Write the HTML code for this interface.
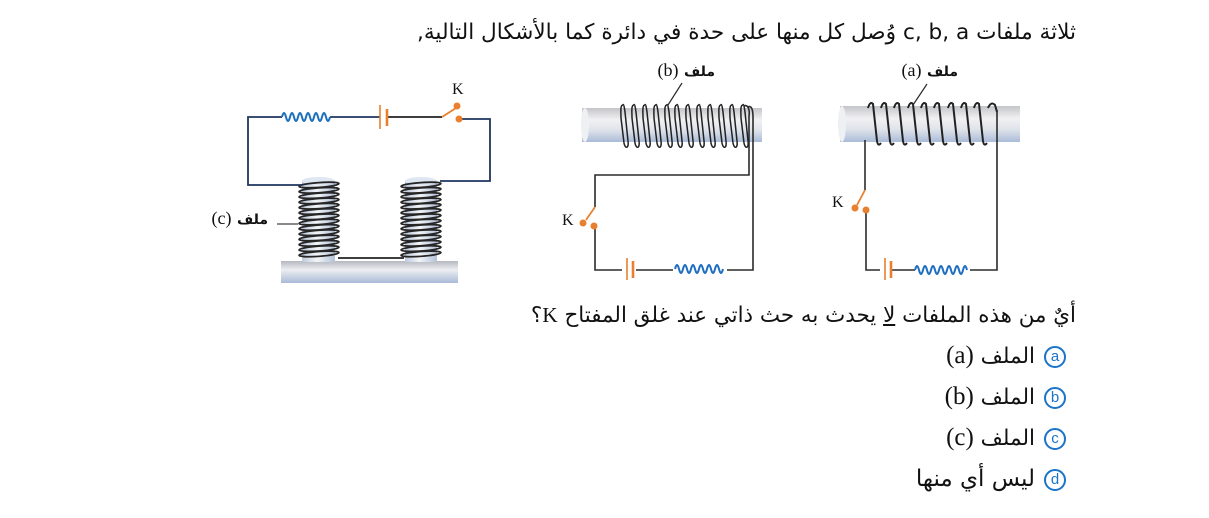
<!DOCTYPE html>
<html><head><meta charset="utf-8">
<style>
html,body{margin:0;padding:0;background:#fff;}
body{width:1209px;height:518px;position:relative;overflow:hidden;font-family:"DejaVu Sans",sans-serif;color:#111;}
.t{position:absolute;white-space:nowrap;direction:rtl;}
.ser{font-family:"Liberation Serif",serif;}
.opt{position:absolute;white-space:nowrap;direction:rtl;font-size:21.5px;line-height:26px;}
.op{display:inline-block;direction:ltr;unicode-bidi:isolate;font-family:"Liberation Serif",serif;font-size:25px;}
.lb{display:inline-block;direction:ltr;unicode-bidi:isolate;font-family:"Liberation Serif",serif;font-size:18px;}
.circ{position:absolute;width:18px;height:18px;border:2px solid #1b74c8;border-radius:50%;color:#1b74c8;font-family:"Liberation Sans",sans-serif;font-size:15px;line-height:17px;text-align:center;}
svg{position:absolute;left:0;top:0;}
</style></head><body>
<svg width="1209" height="518" viewBox="0 0 1209 518">
<defs>
<linearGradient id="rodg" x1="0" y1="0" x2="0" y2="1">
<stop offset="0" stop-color="#c4c5c9"/><stop offset="0.35" stop-color="#f1f1f3"/><stop offset="0.65" stop-color="#dfe3ea"/><stop offset="1" stop-color="#aabbd8"/>
</linearGradient>
<linearGradient id="vg" x1="0" y1="0" x2="1" y2="0">
<stop offset="0" stop-color="#bcc8dc"/><stop offset="0.45" stop-color="#f3f5f8"/><stop offset="1" stop-color="#b3c1d8"/>
</linearGradient>
<linearGradient id="baseg" x1="0" y1="0" x2="0" y2="1">
<stop offset="0" stop-color="#b5b8be"/><stop offset="0.4" stop-color="#eceef1"/><stop offset="1" stop-color="#a9bad8"/>
</linearGradient>
</defs>

<!-- ===== Circuit a ===== -->
<rect x="840" y="106" width="180" height="36" fill="url(#rodg)"/>
<ellipse cx="842" cy="124" rx="4" ry="18" fill="#eef0f3"/>
<g fill="none" stroke="#222" stroke-width="2">
<path d="M868 108 Q870 101 873 104 L877 141 Q878 147 881 143"/>
<path d="M881 108 Q883 101 886 104 L890 141 Q891 147 894 143"/>
<path d="M894 108 Q896 101 899 104 L903 141 Q904 147 907 143"/>
<path d="M908 108 Q910 101 913 104 L917 141 Q918 147 921 143"/>
<path d="M921 108 Q923 101 926 104 L930 141 Q931 147 934 143"/>
<path d="M934 108 Q936 101 939 104 L943 141 Q944 147 947 143"/>
<path d="M948 108 Q950 101 953 104 L957 141 Q958 147 961 143"/>
<path d="M961 108 Q963 101 966 104 L970 141 Q971 147 974 143"/>
<path d="M974 108 Q976 101 979 104 L983 141 Q984 147 987 143"/>
<path d="M988 108 Q991 101 995 105 L997 112"/>
</g>
<g fill="none" stroke="#2b2b2b" stroke-width="1.6">
<polyline points="865,140 865,190"/>
<polyline points="866,211 866,270 997,270 997,110"/>
<line x1="927" y1="84" x2="913" y2="105" stroke-width="1.2"/>
</g>
<line x1="865" y1="190" x2="857" y2="205" stroke="#e8802f" stroke-width="1.8"/>
<circle cx="855" cy="208" r="3.5" fill="#e8802f"/>
<circle cx="866" cy="210" r="3.5" fill="#e8802f"/>
<rect x="880" y="266" width="10" height="8" fill="#fff"/>
<line x1="885" y1="258" x2="885" y2="280" stroke="#e8802f" stroke-width="1.6"/>
<line x1="891" y1="261" x2="891" y2="278" stroke="#e8802f" stroke-width="2.6"/>
<rect x="915" y="262" width="55" height="14" fill="#fff"/>
<path d="M915 270 Q917 262 919 270 Q921 278 923 270 Q925 262 927 270 Q929 278 931 270 Q933 262 935 270 Q937 278 939 270 Q941 262 943 270 Q945 278 947 270 Q949 262 951 270 Q953 278 955 270 Q957 262 959 270 Q961 278 963 270 Q965 262 967 270" fill="none" stroke="#1f6fc0" stroke-width="2"/>

<!-- ===== Circuit b ===== -->
<rect x="582" y="108" width="180" height="34" fill="url(#rodg)"/>
<ellipse cx="585" cy="125" rx="4" ry="17" fill="#eef0f3"/>
<g fill="none" stroke="#222" stroke-width="1.5">
<path d="M623 105 C620 105 621 112 621 118 L624 143 C625 149 629 149 628 141 L625 112 C624 104 623 104 623 105"/>
<path d="M634 105 C631 105 632 112 632 118 L635 143 C636 149 640 149 639 141 L636 112 C635 104 634 104 634 105"/>
<path d="M645 105 C642 105 643 112 643 118 L646 143 C647 149 651 149 650 141 L647 112 C646 104 645 104 645 105"/>
<path d="M656 105 C653 105 654 112 654 118 L657 143 C658 149 662 149 661 141 L658 112 C657 104 656 104 656 105"/>
<path d="M667 105 C664 105 665 112 665 118 L668 143 C669 149 673 149 672 141 L669 112 C668 104 667 104 667 105"/>
<path d="M677 105 C674 105 675 112 675 118 L678 143 C679 149 683 149 682 141 L679 112 C678 104 677 104 677 105"/>
<path d="M688 105 C685 105 686 112 686 118 L689 143 C690 149 694 149 693 141 L690 112 C689 104 688 104 688 105"/>
<path d="M699 105 C696 105 697 112 697 118 L700 143 C701 149 705 149 704 141 L701 112 C700 104 699 104 699 105"/>
<path d="M710 105 C707 105 708 112 708 118 L711 143 C712 149 716 149 715 141 L712 112 C711 104 710 104 710 105"/>
<path d="M721 105 C718 105 719 112 719 118 L722 143 C723 149 727 149 726 141 L723 112 C722 104 721 104 721 105"/>
<path d="M732 105 C729 105 730 112 730 118 L733 143 C734 149 738 149 737 141 L734 112 C733 104 732 104 732 105"/>
<path d="M743 105 C740 105 741 112 741 118 L744 143 C745 149 749 149 748 141 L745 112 C744 104 743 104 743 105"/>
</g>
<g fill="none" stroke="#2b2b2b" stroke-width="1.6">
<path d="M744 106 C748 104 750 110 749 116 L749 175 L595 175 L595 207"/>
<path d="M748 107 C752 105 753 111 753 117 L753 270 L595 270 L595 227"/>
<line x1="682" y1="83" x2="668" y2="105" stroke-width="1.2"/>
</g>
<line x1="595" y1="207" x2="586" y2="220" stroke="#e8802f" stroke-width="1.8"/>
<circle cx="583" cy="223" r="3.5" fill="#e8802f"/>
<circle cx="594" cy="226" r="3.5" fill="#e8802f"/>
<rect x="622" y="266" width="14" height="8" fill="#fff"/>
<line x1="627" y1="258" x2="627" y2="280" stroke="#e8802f" stroke-width="1.6"/>
<line x1="633" y1="261" x2="633" y2="278" stroke="#e8802f" stroke-width="2.6"/>
<rect x="673" y="262" width="54" height="14" fill="#fff"/>
<path d="M675 269 Q677 261 679 269 Q681 277 683 269 Q685 261 687 269 Q689 277 691 269 Q693 261 695 269 Q697 277 699 269 Q701 261 703 269 Q705 277 707 269 Q709 261 711 269 Q713 277 715 269 Q717 261 719 269 Q721 277 723 269" fill="none" stroke="#1f6fc0" stroke-width="2"/>

<!-- ===== Circuit c ===== -->
<rect x="281" y="261" width="177" height="22" fill="url(#baseg)"/>
<rect x="302" y="181" width="33" height="81" fill="url(#vg)"/>
<ellipse cx="318.5" cy="181" rx="16.5" ry="4" fill="#dfe7f2"/>
<rect x="405" y="181" width="32" height="81" fill="url(#vg)"/>
<ellipse cx="421" cy="181" rx="16" ry="4" fill="#dfe7f2"/>
<g fill="none" stroke="#262626" stroke-width="1.7">
<ellipse cx="319" cy="185" rx="20" ry="2.4" transform="rotate(-4 319 185)"/>
<ellipse cx="319" cy="190.3" rx="20" ry="2.4" transform="rotate(-4 319 190.3)"/>
<ellipse cx="319" cy="195.6" rx="20" ry="2.4" transform="rotate(-4 319 195.6)"/>
<ellipse cx="319" cy="200.9" rx="20" ry="2.4" transform="rotate(-4 319 200.9)"/>
<ellipse cx="319" cy="206.2" rx="20" ry="2.4" transform="rotate(-4 319 206.2)"/>
<ellipse cx="319" cy="211.5" rx="20" ry="2.4" transform="rotate(-4 319 211.5)"/>
<ellipse cx="319" cy="216.8" rx="20" ry="2.4" transform="rotate(-4 319 216.8)"/>
<ellipse cx="319" cy="222.1" rx="20" ry="2.4" transform="rotate(-4 319 222.1)"/>
<ellipse cx="319" cy="227.4" rx="20" ry="2.4" transform="rotate(-4 319 227.4)"/>
<ellipse cx="319" cy="232.7" rx="20" ry="2.4" transform="rotate(-4 319 232.7)"/>
<ellipse cx="319" cy="238" rx="20" ry="2.4" transform="rotate(-4 319 238)"/>
<ellipse cx="319" cy="243.3" rx="20" ry="2.4" transform="rotate(-4 319 243.3)"/>
<ellipse cx="319" cy="248.6" rx="20" ry="2.4" transform="rotate(-4 319 248.6)"/>
<ellipse cx="319" cy="253.9" rx="20" ry="2.4" transform="rotate(-4 319 253.9)"/>
<ellipse cx="421" cy="185" rx="20" ry="2.4" transform="rotate(-4 421 185)"/>
<ellipse cx="421" cy="190.3" rx="20" ry="2.4" transform="rotate(-4 421 190.3)"/>
<ellipse cx="421" cy="195.6" rx="20" ry="2.4" transform="rotate(-4 421 195.6)"/>
<ellipse cx="421" cy="200.9" rx="20" ry="2.4" transform="rotate(-4 421 200.9)"/>
<ellipse cx="421" cy="206.2" rx="20" ry="2.4" transform="rotate(-4 421 206.2)"/>
<ellipse cx="421" cy="211.5" rx="20" ry="2.4" transform="rotate(-4 421 211.5)"/>
<ellipse cx="421" cy="216.8" rx="20" ry="2.4" transform="rotate(-4 421 216.8)"/>
<ellipse cx="421" cy="222.1" rx="20" ry="2.4" transform="rotate(-4 421 222.1)"/>
<ellipse cx="421" cy="227.4" rx="20" ry="2.4" transform="rotate(-4 421 227.4)"/>
<ellipse cx="421" cy="232.7" rx="20" ry="2.4" transform="rotate(-4 421 232.7)"/>
<ellipse cx="421" cy="238" rx="20" ry="2.4" transform="rotate(-4 421 238)"/>
<ellipse cx="421" cy="243.3" rx="20" ry="2.4" transform="rotate(-4 421 243.3)"/>
<ellipse cx="421" cy="248.6" rx="20" ry="2.4" transform="rotate(-4 421 248.6)"/>
<ellipse cx="421" cy="253.9" rx="20" ry="2.4" transform="rotate(-4 421 253.9)"/>
</g>
<line x1="338" y1="258" x2="404" y2="258" stroke="#222" stroke-width="1.8"/>
<line x1="277" y1="224" x2="298" y2="224" stroke="#444" stroke-width="1.2"/>
<g fill="none" stroke="#1f3560" stroke-width="1.8">
<polyline points="302,185 248,185 248,117 282,117"/>
<polyline points="330,117 380,117"/>
<polyline points="460,119 490,119 490,181 440,181"/>
</g>
<line x1="388" y1="117" x2="442" y2="117" stroke="#222" stroke-width="1.8"/>
<line x1="380" y1="105" x2="380" y2="129" stroke="#e8802f" stroke-width="1.6"/>
<line x1="387" y1="109" x2="387" y2="126" stroke="#e8802f" stroke-width="2.6"/>
<path d="M282 117 Q284 109 286 117 Q288 125 290 117 Q292 109 294 117 Q296 125 298 117 Q300 109 302 117 Q304 125 306 117 Q308 109 310 117 Q312 125 314 117 Q316 109 318 117 Q320 125 322 117 Q324 109 326 117 Q328 125 330 117" fill="none" stroke="#1f6fc0" stroke-width="2"/>
<line x1="442" y1="117" x2="456" y2="108" stroke="#e8802f" stroke-width="1.8"/>
<circle cx="457" cy="106" r="3.5" fill="#e8802f"/>
<circle cx="459" cy="119" r="3.5" fill="#e8802f"/>
</svg>

<!-- K labels -->
<div class="t ser" style="left:832px;top:193px;font-size:16px;line-height:20px;direction:ltr;">K</div>
<div class="t ser" style="left:562px;top:211px;font-size:16px;line-height:20px;direction:ltr;">K</div>
<div class="t ser" style="left:452px;top:80px;font-size:16px;line-height:20px;direction:ltr;">K</div>

<!-- coil labels -->
<div class="t" style="right:251px;top:59px;font-size:17px;line-height:22px;"><b style="font-size:14px;">ملف</b> <span class="lb">(a)</span></div>
<div class="t" style="right:494px;top:59px;font-size:17px;line-height:22px;"><b style="font-size:14px;">ملف</b> <span class="lb">(b)</span></div>
<div class="t" style="right:941px;top:207px;font-size:17px;line-height:22px;"><b style="font-size:14px;">ملف</b> <span class="lb">(c)</span></div>

<!-- top text -->
<div class="t" style="right:133px;top:19px;font-size:21.6px;line-height:28px;">ثلاثة ملفات c, b, a وُصل كل منها على حدة في دائرة كما بالأشكال التالية,</div>

<!-- question -->
<div class="t" style="right:133px;top:301px;font-size:21.4px;line-height:28px;">أيٌ من هذه الملفات <u>لا</u> يحدث به حث ذاتي عند غلق المفتاح <span class="ser">K</span>؟</div>

<!-- options -->
<div class="circ" style="left:1044px;top:346px;">a</div>
<div class="opt" style="right:174px;top:343px;">الملف <span class="op">(a)</span></div>
<div class="circ" style="left:1044px;top:387px;">b</div>
<div class="opt" style="right:174px;top:384px;">الملف <span class="op">(b)</span></div>
<div class="circ" style="left:1044px;top:428px;">c</div>
<div class="opt" style="right:174px;top:425px;">الملف <span class="op">(c)</span></div>
<div class="circ" style="left:1044px;top:469px;">d</div>
<div class="opt" style="right:174px;top:466px;font-size:23px;">ليس أي منها</div>
</body></html>
